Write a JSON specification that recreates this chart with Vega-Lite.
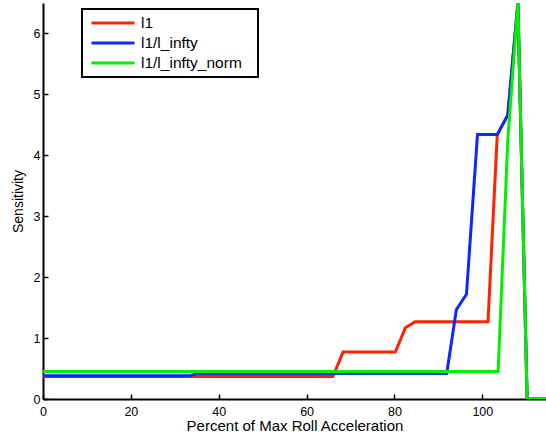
{
  "$schema": "https://vega.github.io/schema/vega-lite/v6.json",
  "width": 503,
  "height": 396,
  "autosize": {"type": "none"},
  "padding": {"left": 43, "top": 3, "right": 0, "bottom": 45},
  "background": "white",
  "config": {
    "view": {"stroke": null},
    "font": "Liberation Sans"
  },
  "data": {
    "values": [
      {"x": 0, "y": 0.37, "series": "l1"},
      {"x": 66.0, "y": 0.37, "series": "l1"},
      {"x": 68.3, "y": 0.77, "series": "l1"},
      {"x": 80.2, "y": 0.77, "series": "l1"},
      {"x": 82.5, "y": 1.17, "series": "l1"},
      {"x": 84.7, "y": 1.27, "series": "l1"},
      {"x": 101.3, "y": 1.27, "series": "l1"},
      {"x": 103.4, "y": 4.34, "series": "l1"},
      {"x": 105.8, "y": 4.66, "series": "l1"},
      {"x": 108.1, "y": 6.5, "series": "l1"},
      {"x": 110.2, "y": 0, "series": "l1"},
      {"x": 114.5, "y": 0, "series": "l1"},
      {"x": 0, "y": 0.38, "series": "l1/l_infty"},
      {"x": 33.5, "y": 0.38, "series": "l1/l_infty"},
      {"x": 35.0, "y": 0.42, "series": "l1/l_infty"},
      {"x": 91.9, "y": 0.42, "series": "l1/l_infty"},
      {"x": 94.1, "y": 1.47, "series": "l1/l_infty"},
      {"x": 96.4, "y": 1.72, "series": "l1/l_infty"},
      {"x": 98.9, "y": 4.34, "series": "l1/l_infty"},
      {"x": 103.4, "y": 4.34, "series": "l1/l_infty"},
      {"x": 105.8, "y": 4.66, "series": "l1/l_infty"},
      {"x": 108.1, "y": 6.5, "series": "l1/l_infty"},
      {"x": 110.2, "y": 0, "series": "l1/l_infty"},
      {"x": 114.5, "y": 0, "series": "l1/l_infty"},
      {"x": 0, "y": 0.45, "series": "l1/l_infty_norm"},
      {"x": 103.6, "y": 0.45, "series": "l1/l_infty_norm"},
      {"x": 105.8, "y": 4.25, "series": "l1/l_infty_norm"},
      {"x": 108.1, "y": 6.5, "series": "l1/l_infty_norm"},
      {"x": 110.2, "y": 0, "series": "l1/l_infty_norm"},
      {"x": 114.5, "y": 0, "series": "l1/l_infty_norm"}
    ]
  },
  "mark": {"type": "line", "strokeWidth": 3, "clip": true},
  "encoding": {
    "x": {
      "field": "x",
      "type": "quantitative",
      "scale": {"domain": [0, 114.5], "nice": false, "zero": false},
      "axis": {
        "title": "Percent of Max Roll Acceleration",
        "values": [0, 20, 40, 60, 80, 100],
        "grid": false,
        "domainColor": "black",
        "domainWidth": 2,
        "tickColor": "black",
        "tickWidth": 1.5,
        "tickSize": -5,
        "labelPadding": 11,
        "labelFontSize": 12.5,
        "labelColor": "black",
        "labelFlush": false,
        "titleFontSize": 15,
        "titleFontWeight": "normal",
        "titleColor": "black",
        "titlePadding": 1
      }
    },
    "y": {
      "field": "y",
      "type": "quantitative",
      "scale": {"domain": [0, 6.5], "nice": false},
      "axis": {
        "title": "Sensitivity",
        "values": [0, 1, 2, 3, 4, 5, 6],
        "grid": false,
        "domainColor": "black",
        "domainWidth": 2,
        "tickColor": "black",
        "tickWidth": 1.5,
        "tickSize": -5,
        "labelPadding": 8,
        "labelFontSize": 12.5,
        "labelColor": "black",
        "titleFontSize": 14,
        "titleFontWeight": "normal",
        "titleColor": "black",
        "titlePadding": 8
      }
    },
    "color": {
      "field": "series",
      "type": "nominal",
      "scale": {
        "domain": ["l1", "l1/l_infty", "l1/l_infty_norm"],
        "range": ["#ff2200", "#0a28ff", "#00f000"]
      },
      "legend": {
        "title": "\u00a0",
        "titleOrient": "right",
        "titlePadding": 12,
        "titleFontSize": 12,
        "symbolType": "stroke",
        "orient": "none",
        "legendX": 39,
        "legendY": 6,
        "symbolSize": 1849,
        "symbolStrokeWidth": 3,
        "symbolOffset": 4,
        "clipHeight": 20,
        "rowPadding": 0,
        "labelFontSize": 15.5,
        "labelColor": "black",
        "labelOffset": 5,
        "padding": 4,
        "strokeColor": "black",
        "fillColor": "white",
        "encode": {
          "legend": {"update": {"strokeWidth": {"value": 2}}}
        }
      }
    }
  }
}
